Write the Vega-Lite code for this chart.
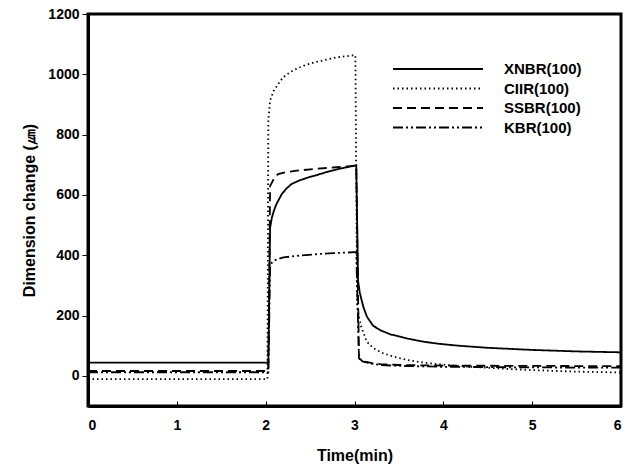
{
  "$schema": "https://vega.github.io/schema/vega-lite/v6.json",
  "width": 533,
  "height": 392,
  "autosize": {"type": "none"},
  "padding": {"left": 88, "top": 14, "right": 6, "bottom": 61},
  "background": "white",
  "config": {
    "view": {"stroke": "black", "strokeWidth": 3},
    "font": "Liberation Sans",
    "axis": {"grid": false, "domainColor": "black", "domainWidth": 3, "tickColor": "black", "tickWidth": 1, "labelFont": "Liberation Sans", "labelFontWeight": "bold", "labelFontSize": 14, "labelColor": "black", "titleFont": "Liberation Sans", "titleFontWeight": "bold", "titleFontSize": 16, "titleColor": "black"}
  },
  "data": {"values": [
    {"s":"XNBR(100)","t":0,"v":44},{"s":"XNBR(100)","t":1,"v":44},{"s":"XNBR(100)","t":2.03,"v":44},{"s":"XNBR(100)","t":2.05,"v":491},{"s":"XNBR(100)","t":2.07,"v":525},{"s":"XNBR(100)","t":2.09,"v":545},{"s":"XNBR(100)","t":2.12,"v":569},{"s":"XNBR(100)","t":2.18,"v":602},{"s":"XNBR(100)","t":2.23,"v":620},{"s":"XNBR(100)","t":2.29,"v":636},{"s":"XNBR(100)","t":2.38,"v":648},{"s":"XNBR(100)","t":2.48,"v":658},{"s":"XNBR(100)","t":2.6,"v":668},{"s":"XNBR(100)","t":2.71,"v":678},{"s":"XNBR(100)","t":2.85,"v":688},{"s":"XNBR(100)","t":3.0,"v":697},{"s":"XNBR(100)","t":3.02,"v":697},{"s":"XNBR(100)","t":3.04,"v":315},{"s":"XNBR(100)","t":3.06,"v":275},{"s":"XNBR(100)","t":3.1,"v":228},{"s":"XNBR(100)","t":3.14,"v":196},{"s":"XNBR(100)","t":3.21,"v":166},{"s":"XNBR(100)","t":3.3,"v":150},{"s":"XNBR(100)","t":3.4,"v":138},{"s":"XNBR(100)","t":3.59,"v":124},{"s":"XNBR(100)","t":3.78,"v":113},{"s":"XNBR(100)","t":3.96,"v":106},{"s":"XNBR(100)","t":4.17,"v":100},{"s":"XNBR(100)","t":4.5,"v":93},{"s":"XNBR(100)","t":5.0,"v":86},{"s":"XNBR(100)","t":5.5,"v":81},{"s":"XNBR(100)","t":6.0,"v":78},
    {"s":"CIIR(100)","t":0,"v":-11},{"s":"CIIR(100)","t":1,"v":-11},{"s":"CIIR(100)","t":2.02,"v":-11},{"s":"CIIR(100)","t":2.03,"v":847},{"s":"CIIR(100)","t":2.05,"v":913},{"s":"CIIR(100)","t":2.09,"v":945},{"s":"CIIR(100)","t":2.12,"v":958},{"s":"CIIR(100)","t":2.16,"v":976},{"s":"CIIR(100)","t":2.2,"v":991},{"s":"CIIR(100)","t":2.27,"v":1006},{"s":"CIIR(100)","t":2.35,"v":1019},{"s":"CIIR(100)","t":2.45,"v":1031},{"s":"CIIR(100)","t":2.57,"v":1041},{"s":"CIIR(100)","t":2.7,"v":1050},{"s":"CIIR(100)","t":2.8,"v":1056},{"s":"CIIR(100)","t":2.9,"v":1060},{"s":"CIIR(100)","t":2.99,"v":1063},{"s":"CIIR(100)","t":3.01,"v":1063},{"s":"CIIR(100)","t":3.03,"v":230},{"s":"CIIR(100)","t":3.05,"v":195},{"s":"CIIR(100)","t":3.08,"v":158},{"s":"CIIR(100)","t":3.14,"v":113},{"s":"CIIR(100)","t":3.21,"v":92},{"s":"CIIR(100)","t":3.32,"v":75},{"s":"CIIR(100)","t":3.45,"v":63},{"s":"CIIR(100)","t":3.6,"v":52},{"s":"CIIR(100)","t":3.8,"v":43},{"s":"CIIR(100)","t":4.0,"v":37},{"s":"CIIR(100)","t":4.3,"v":30},{"s":"CIIR(100)","t":4.6,"v":25},{"s":"CIIR(100)","t":5.0,"v":19},{"s":"CIIR(100)","t":5.5,"v":14},{"s":"CIIR(100)","t":6.0,"v":11},
    {"s":"SSBR(100)","t":0,"v":16},{"s":"SSBR(100)","t":1,"v":16},{"s":"SSBR(100)","t":2.03,"v":16},{"s":"SSBR(100)","t":2.05,"v":630},{"s":"SSBR(100)","t":2.07,"v":641},{"s":"SSBR(100)","t":2.1,"v":658},{"s":"SSBR(100)","t":2.14,"v":669},{"s":"SSBR(100)","t":2.22,"v":675},{"s":"SSBR(100)","t":2.33,"v":680},{"s":"SSBR(100)","t":2.55,"v":686},{"s":"SSBR(100)","t":2.76,"v":691},{"s":"SSBR(100)","t":2.9,"v":694},{"s":"SSBR(100)","t":3.0,"v":697},{"s":"SSBR(100)","t":3.02,"v":697},{"s":"SSBR(100)","t":3.05,"v":58},{"s":"SSBR(100)","t":3.09,"v":48},{"s":"SSBR(100)","t":3.2,"v":42},{"s":"SSBR(100)","t":3.29,"v":39},{"s":"SSBR(100)","t":3.5,"v":36},{"s":"SSBR(100)","t":4.0,"v":34},{"s":"SSBR(100)","t":5.0,"v":33},{"s":"SSBR(100)","t":6.0,"v":32},
    {"s":"KBR(100)","t":0,"v":12},{"s":"KBR(100)","t":1,"v":12},{"s":"KBR(100)","t":2.03,"v":12},{"s":"KBR(100)","t":2.05,"v":360},{"s":"KBR(100)","t":2.07,"v":376},{"s":"KBR(100)","t":2.09,"v":382},{"s":"KBR(100)","t":2.2,"v":393},{"s":"KBR(100)","t":2.39,"v":399},{"s":"KBR(100)","t":2.6,"v":404},{"s":"KBR(100)","t":2.76,"v":407},{"s":"KBR(100)","t":3.0,"v":410},{"s":"KBR(100)","t":3.02,"v":410},{"s":"KBR(100)","t":3.05,"v":60},{"s":"KBR(100)","t":3.09,"v":48},{"s":"KBR(100)","t":3.2,"v":40},{"s":"KBR(100)","t":3.3,"v":36},{"s":"KBR(100)","t":3.5,"v":33},{"s":"KBR(100)","t":4.0,"v":30},{"s":"KBR(100)","t":5.0,"v":28},{"s":"KBR(100)","t":6.0,"v":27}
  ]},
  "mark": {"type": "line", "color": "black", "strokeWidth": 1.8, "clip": true},
  "encoding": {
    "x": {"field": "t", "type": "quantitative", "scale": {"domain": [0, 6], "nice": false, "zero": false}, "axis": {"values": [0,1,2,3,4,5,6], "format": "d", "tickSize": -5, "labelPadding": 17, "title": "Time(min)", "titlePadding": 15}},
    "y": {"field": "v", "type": "quantitative", "scale": {"domain": [-100, 1200], "nice": false, "zero": false}, "axis": {"values": [0,200,400,600,800,1000,1200], "format": "d", "tickSize": 6, "labelPadding": 3, "title": "Dimension change (㎛)", "titlePadding": 10}},
    "strokeDash": {"field": "s", "type": "nominal", "scale": {"domain": ["XNBR(100)", "CIIR(100)", "SSBR(100)", "KBR(100)"], "range": [[1,0], [1.5,3], [9,5], [10,3,2,3,2,3]]},
      "legend": {"title": null, "orient": "none", "legendX": 340, "legendY": 45, "symbolType": "M-5,0H5", "symbolSize": 324, "symbolStrokeColor": "black", "symbolStrokeWidth": 1.8, "labelFont": "Liberation Sans", "labelFontWeight": "bold", "labelFontSize": 15, "labelColor": "black", "labelOffset": 56, "rowPadding": 1.5}
    }
  }
}
